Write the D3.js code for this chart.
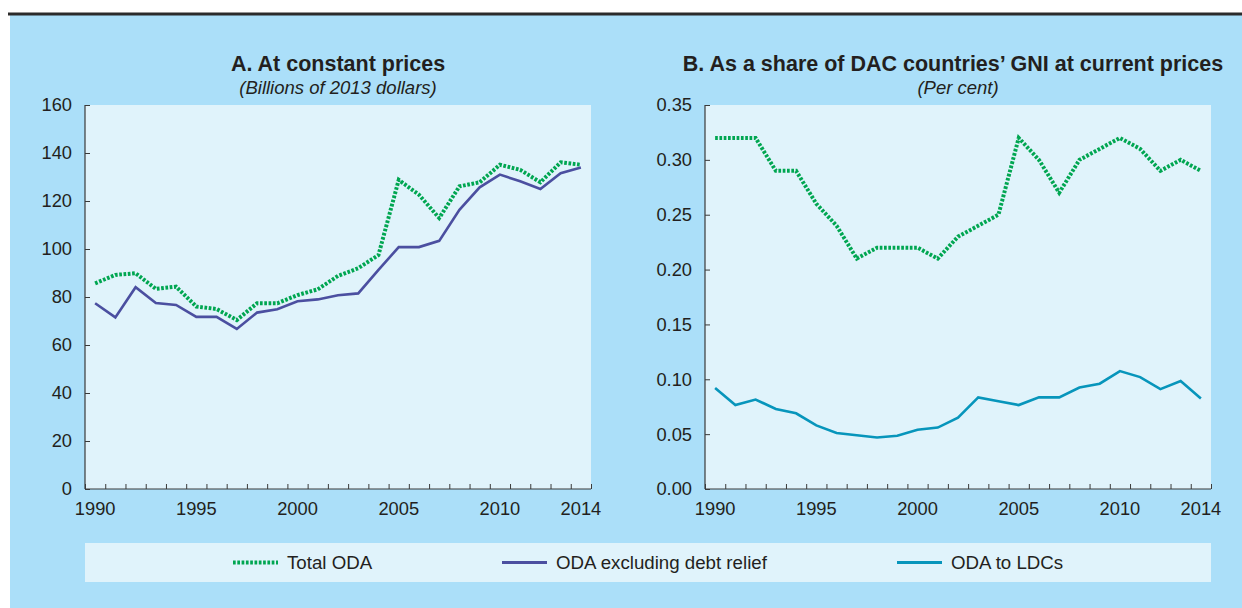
<!DOCTYPE html>
<html>
<head>
<meta charset="utf-8">
<script src="https://cdn.jsdelivr.net/npm/d3@7"></script>
<style>
  html, body { margin: 0; padding: 0; background: #ffffff; }
  svg { display: block; font-family: "Liberation Sans", Arial, sans-serif; }
</style>
</head>
<body>
<svg id="chart" width="1242" height="608"></svg>
<script>
// ---- data ----
const years = d3.range(1990, 2015);
const yearTickLabels = [1990, 1995, 2000, 2005, 2010, 2014];
const totalODA = [85.7, 89.2, 89.9, 83.4, 84.3, 76.0, 75.0, 70.4, 77.4, 77.4, 80.8, 83.2, 88.8, 92.0, 97.5, 128.8, 122.6, 112.9, 126.1, 127.8, 135.1, 133.0, 127.8, 136.1, 135.1];
const odaExDebt = [77.4, 71.5, 84.1, 77.5, 76.7, 71.7, 71.7, 66.7, 73.5, 74.9, 78.2, 79.0, 80.7, 81.5, 91.3, 100.8, 100.8, 103.4, 116.3, 125.7, 131.0, 128.2, 125.0, 131.6, 134.0];
const totalODAShare = [0.32, 0.32, 0.32, 0.29, 0.29, 0.26, 0.24, 0.21, 0.22, 0.22, 0.22, 0.21, 0.23, 0.24, 0.25, 0.32, 0.30, 0.27, 0.30, 0.31, 0.32, 0.31, 0.29, 0.30, 0.29];
const odaLDCShare = [0.092, 0.0765, 0.0815, 0.073, 0.069, 0.058, 0.051, 0.049, 0.047, 0.0486, 0.054, 0.056, 0.065, 0.0835, 0.080, 0.0765, 0.0835, 0.0835, 0.0925, 0.096, 0.1075, 0.102, 0.091, 0.0985, 0.0825];
const yTicksA = [0, 20, 40, 60, 80, 100, 120, 140, 160];
const yTicksB = [0, 0.05, 0.10, 0.15, 0.20, 0.25, 0.30, 0.35];
const titleA = "A. At constant prices";
const subtitleA = "(Billions of 2013 dollars)";
const titleB = "B. As a share of DAC countries\u2019 GNI at current prices";
const subtitleB = "(Per cent)";
const legendLabels = ["Total ODA", "ODA excluding debt relief", "ODA to LDCs"];

// ---- styles ----
const C = {
  bg: "#abdff9", plot: "#e0f3fb", green: "#00a651", navy: "#4b4fa0", teal: "#0795bb",
  text: "#231f20", axis: "#3a3a3a"
};
const tickFont = 18.3;

const svg = d3.select("#chart");
svg.append("rect").attr("x", 10).attr("y", 15).attr("width", 1232).attr("height", 593).attr("fill", C.bg);
svg.append("rect").attr("x", 8).attr("y", 12.5).attr("width", 1234).attr("height", 3).attr("fill", "#2b2b2b");

const plotTop = 105, plotBottom = 489;

function panel(x0, x1, yMax, yTicks, fmt, series, title, subtitle, titleX) {
  const x = d3.scaleBand().domain(years).range([x0, x1]).padding(0);
  const y = d3.scaleLinear().domain([0, yMax]).range([plotBottom, plotTop]);
  const g = svg.append("g");
  g.append("rect").attr("x", x0).attr("y", plotTop).attr("width", x1 - x0).attr("height", plotBottom - plotTop).attr("fill", C.plot);

  // y axis
  const ya = g.append("g").attr("transform", `translate(${x0},0)`)
    .call(d3.axisLeft(y).tickValues(yTicks).tickFormat(fmt).tickSize(0).tickPadding(13));
  ya.select(".domain").remove();
  ya.selectAll("text").attr("font-size", tickFont).attr("fill", C.text).attr("font-family", "Liberation Sans, Arial, sans-serif");
  g.append("g").attr("transform", `translate(${x0},0)`)
    .call(d3.axisRight(y).tickValues(yTicks).tickSize(5).tickFormat(""))
    .call(s => s.select(".domain").remove())
    .selectAll("line").attr("stroke", C.axis).attr("stroke-width", 1);
  g.append("line").attr("x1", x0).attr("x2", x0).attr("y1", plotTop).attr("y2", plotBottom).attr("stroke", C.axis).attr("stroke-width", 1.2);

  // x axis: ticks at band boundaries, labels at band centers
  const xb = d3.scaleLinear().domain([1990, 2015]).range([x0, x1]);
  const xa = g.append("g").attr("transform", `translate(0,${plotBottom})`)
    .call(d3.axisTop(xb).tickValues(d3.range(1990, 2016)).tickSize(5).tickFormat(""));
  xa.select(".domain").remove();
  xa.selectAll("line").attr("stroke", C.axis).attr("stroke-width", 1);
  g.append("line").attr("x1", x0).attr("x2", x1).attr("y1", plotBottom).attr("y2", plotBottom).attr("stroke", C.axis).attr("stroke-width", 1.2);
  const xl = g.append("g").attr("transform", `translate(0,${plotBottom})`)
    .call(d3.axisBottom(x).tickValues(yearTickLabels).tickSize(0).tickPadding(13));
  xl.select(".domain").remove();
  xl.selectAll("text").attr("font-size", tickFont).attr("fill", C.text).attr("font-family", "Liberation Sans, Arial, sans-serif");

  // lines
  const line = vals => d3.line().x((d, i) => x(years[i]) + x.bandwidth() / 2).y(d => y(d))(vals);
  series.forEach(s => {
    g.append("path").attr("d", line(s.values)).attr("fill", "none")
      .attr("stroke", s.color).attr("stroke-width", s.width)
      .attr("stroke-dasharray", s.dash || null).attr("stroke-linejoin", "miter");
  });

  g.append("text").attr("x", titleX).attr("y", 70.5).attr("text-anchor", "middle")
    .attr("font-weight", "bold").attr("font-size", 21.5).attr("fill", C.text).text(title);
  g.append("text").attr("x", (x0 + x1) / 2).attr("y", 93.5).attr("text-anchor", "middle")
    .attr("font-style", "italic").attr("font-size", 18.5).attr("fill", C.text).text(subtitle);
}

panel(85, 591, 160, yTicksA, d3.format("d"), [
  { values: odaExDebt, color: C.navy, width: 2.6 },
  { values: totalODA, color: C.green, width: 4, dash: "2.7 1.6" }
], titleA, subtitleA, 338);

panel(705, 1211, 0.35, yTicksB, d3.format(".2f"), [
  { values: odaLDCShare, color: C.teal, width: 2.6 },
  { values: totalODAShare, color: C.green, width: 4, dash: "2.7 1.6" }
], titleB, subtitleB, 953);

// legend
svg.append("rect").attr("x", 85).attr("y", 543).attr("width", 1126).attr("height", 39).attr("fill", C.plot);
const legendItems = [
  { label: legendLabels[0], color: C.green, dash: "2.7 1.6", width: 4, x: 233 },
  { label: legendLabels[1], color: C.navy, width: 3, x: 502 },
  { label: legendLabels[2], color: C.teal, width: 3, x: 897 }
];
const lg = svg.append("g").selectAll("g").data(legendItems).join("g")
  .attr("transform", d => `translate(${d.x},562.5)`);
lg.append("line").attr("x1", 0).attr("x2", 45).attr("stroke", d => d.color)
  .attr("stroke-width", d => d.width).attr("stroke-dasharray", d => d.dash || null);
lg.append("text").attr("x", 54).attr("dy", "0.35em").attr("font-size", 18.7).attr("fill", C.text).text(d => d.label);
</script>
</body>
</html>
